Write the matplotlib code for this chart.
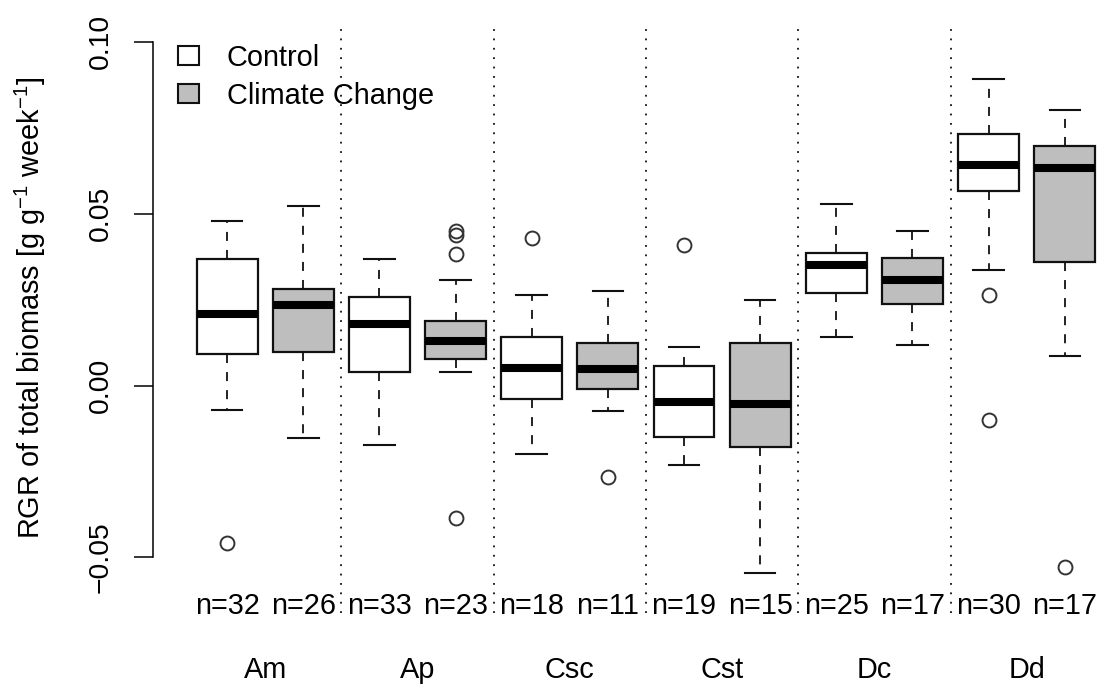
import matplotlib
matplotlib.use('Agg')
import matplotlib.pyplot as plt
from matplotlib.patches import Patch

plt.rcParams['font.family'] = ['Liberation Sans', 'DejaVu Sans']
plt.rcParams['mathtext.fontset'] = 'custom'
plt.rcParams['mathtext.rm'] = 'Liberation Sans'
plt.rcParams['mathtext.default'] = 'regular'

species = ['Am', 'Ap', 'Csc', 'Cst', 'Dc', 'Dd']

# Control boxes: whiskers, quartiles, medians, outliers
ctrl_whislo = [-0.0070, -0.0174, -0.0200, -0.0230, 0.0140, 0.0337]
ctrl_q1 = [0.0093, 0.0038, -0.0038, -0.0150, 0.0270, 0.0565]
ctrl_med = [0.0209, 0.0180, 0.0052, -0.0049, 0.0350, 0.0642]
ctrl_q3 = [0.0369, 0.0258, 0.0140, 0.0056, 0.0387, 0.0733]
ctrl_whishi = [0.0478, 0.0369, 0.0262, 0.0112, 0.0527, 0.0891]
ctrl_fliers = [[-0.0459], [], [0.0430], [0.0408], [], [0.0262, -0.0101]]
ctrl_n = [32, 33, 18, 19, 25, 30]

# Climate change boxes
cc_whislo = [-0.0154, 0.0038, -0.0075, -0.0547, 0.0117, 0.0085]
cc_q1 = [0.0098, 0.0076, -0.0010, -0.0178, 0.0238, 0.0359]
cc_med = [0.0233, 0.0130, 0.0047, -0.0054, 0.0306, 0.0634]
cc_q3 = [0.0280, 0.0187, 0.0125, 0.0125, 0.0372, 0.0696]
cc_whishi = [0.0522, 0.0308, 0.0275, 0.0248, 0.0449, 0.0803]
cc_fliers = [[], [0.0450, 0.0437, 0.0384, -0.0387], [-0.0266], [], [], [-0.0527]]
cc_n = [26, 23, 11, 15, 17, 17]

yticks = [-0.05, 0.0, 0.05, 0.10]
gray = '#BEBEBE'
fs = 20.8

stats, positions, fills, counts = [], [], [], []
for i in range(len(species)):
    for j, (lo, q1, med, q3, hi, fl, n, col) in enumerate([
            (ctrl_whislo[i], ctrl_q1[i], ctrl_med[i], ctrl_q3[i], ctrl_whishi[i],
             ctrl_fliers[i], ctrl_n[i], 'white'),
            (cc_whislo[i], cc_q1[i], cc_med[i], cc_q3[i], cc_whishi[i],
             cc_fliers[i], cc_n[i], gray)]):
        stats.append(dict(whislo=lo, q1=q1, med=med, q3=q3, whishi=hi, fliers=fl))
        positions.append(2 * i + 1 + j)
        fills.append(col)
        counts.append(n)

fig = plt.figure(figsize=(11.04, 6.84), dpi=100)
ax = fig.add_axes([152.5 / 1104, 71 / 684, 951.5 / 1104, 589.7 / 684])

bp = ax.bxp(stats, positions=positions, widths=0.8, capwidths=0.4,
            patch_artist=True,
            boxprops=dict(edgecolor='#111111', linewidth=1.6),
            whiskerprops=dict(color='#111111', linewidth=1.3, linestyle=(0, (5, 5))),
            capprops=dict(color='#111111', linewidth=1.5),
            medianprops=dict(color='black', linewidth=5.8, solid_capstyle='butt'),
            flierprops=dict(marker='o', markersize=10, markerfacecolor='none',
                            markeredgecolor='#333333', markeredgewidth=1.4))
for box, col in zip(bp['boxes'], fills):
    box.set_facecolor(col)

# dotted separators between species
for k in range(1, len(species)):
    ax.axvline(2 * k + 0.5, color='#111111', linewidth=1.3, linestyle=(0, (1, 4.2)))

# sample sizes under each box
for p, n in zip(positions, counts):
    ax.text(p, -0.0642, f'n={n}', ha='center', va='center', fontsize=fs)

ax.set_xlim(0.02, 12.515)
ax.set_ylim(-0.0662, 0.1054)

ax.set_xticks([2 * i + 1.5 for i in range(len(species))])
ax.set_xticklabels(species, fontsize=fs)
ax.tick_params(axis='x', length=0, pad=31)

ax.set_yticks(yticks)
ax.set_yticklabels([f'{v:.2f}'.replace('-', '\u2212') for v in yticks],
                   fontsize=20.3, rotation=90, va='center')
ax.tick_params(axis='y', length=13.7, width=1.1, pad=14)

for s in ['top', 'right', 'bottom']:
    ax.spines[s].set_visible(False)
ax.spines['left'].set_bounds(-0.05, 0.10)
ax.spines['left'].set_linewidth(1.1)

fig.text(40 / 1104, (684 - 308) / 684,
         'RGR of total biomass [g g$^{-1}$ week$^{-1}$]', fontsize=fs,
         rotation=90, rotation_mode='anchor', ha='center', va='baseline')

handles = [Patch(facecolor='white', edgecolor='#111111', linewidth=1.5),
           Patch(facecolor=gray, edgecolor='#111111', linewidth=1.5)]
ax.legend(handles, ['Control', 'Climate Change'], loc='upper left',
          bbox_to_anchor=(177.7 / 1104, (684 - 44) / 684),
          bbox_transform=fig.transFigure, frameon=False, fontsize=fs,
          handlelength=0.75, handleheight=0.63, handletextpad=0.95,
          labelspacing=0.33, borderpad=0, borderaxespad=0)

fig.savefig('out.png', dpi=100)
